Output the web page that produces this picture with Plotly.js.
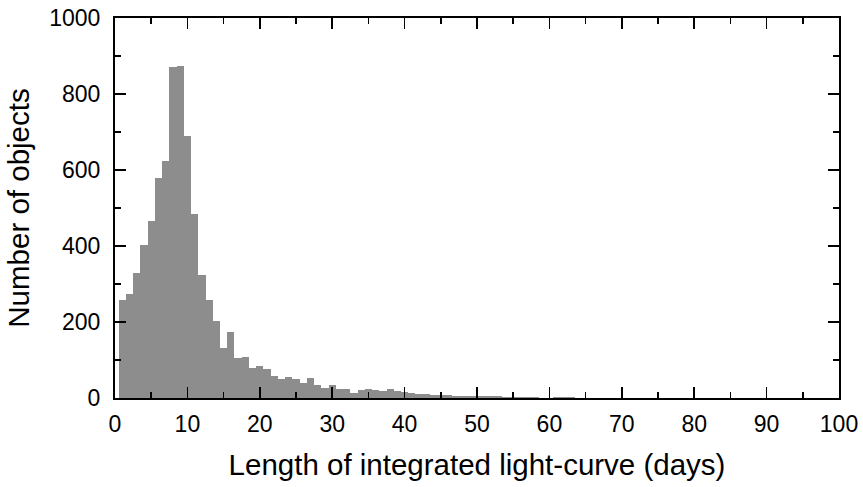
<!DOCTYPE html>
<html>
<head>
<meta charset="utf-8">
<script src="https://cdn.plot.ly/plotly-3.0.1.min.js"></script>
<style>html,body{margin:0;padding:0;background:#fff;}#chart{width:863px;height:487px;}</style>
</head>
<body>
<div id="chart"></div>
<script>
// Bin centres (days), bin width 1 day
const binCenters = [];
for (let d = 1; d <= 99; d++) binCenters.push(d);

// Number of objects per bin
const counts = [
  258, 274, 328, 402, 466, 578, 624, 871, 873, 689,   // 1-10
  483, 324, 257, 203, 132, 175, 106, 109, 78, 84,     // 11-20
  76, 57, 50, 55, 51, 39, 53, 34, 26, 33,             // 21-30
  23, 25, 12, 20, 25, 22, 18, 25, 19, 15,             // 31-40
  13, 11, 10, 9, 8, 8, 6, 6, 6, 5,                    // 41-50
  5, 4, 4, 3, 3, 3, 3, 3, 1, 1,                       // 51-60
  2, 2, 2, 1, 1, 1, 1, 0, 1, 1,                       // 61-70
  0, 0, 0, 0, 0, 0, 0, 0, 0, 0,                       // 71-80
  0, 1, 0, 1, 0, 0, 0, 1, 0, 0,                       // 81-90
  0, 0, 0, 0, 0, 0, 0, 0, 0                           // 91-99
];

const xTickVals = [0, 10, 20, 30, 40, 50, 60, 70, 80, 90, 100];
const yTickVals = [0, 200, 400, 600, 800, 1000];

const font = {family: 'Liberation Sans, Arial, sans-serif', color: '#000'};

const trace = {
  type: 'bar',
  x: binCenters,
  y: counts,
  width: 1,
  marker: {color: '#8d8d8d', line: {width: 0}},
  hoverinfo: 'x+y'
};

const layout = {
  width: 863, height: 487,
  margin: {l: 115, r: 24, t: 18, b: 89, pad: 0},
  paper_bgcolor: '#fff', plot_bgcolor: '#fff',
  showlegend: false,
  bargap: 0,
  font: Object.assign({size: 23}, font),
  xaxis: {
    range: [0, 100],
    tickvals: xTickVals,
    ticks: 'inside', ticklen: 11, tickwidth: 1.5, tickcolor: '#000',
    minor: {dtick: 5, ticks: 'inside', ticklen: 6, tickwidth: 1.5, tickcolor: '#000'},
    showline: true, linecolor: '#000', linewidth: 2, mirror: 'allticks',
    showgrid: false, zeroline: false,
    ticklabelstandoff: 4,
    tickfont: Object.assign({size: 23}, font),
    title: {text: 'Length of integrated light-curve (days)', font: Object.assign({size: 29.5}, font), standoff: 19}
  },
  yaxis: {
    range: [0, 1000],
    tickvals: yTickVals,
    ticks: 'inside', ticklen: 11, tickwidth: 1.5, tickcolor: '#000',
    minor: {dtick: 100, ticks: 'inside', ticklen: 6, tickwidth: 1.5, tickcolor: '#000'},
    showline: true, linecolor: '#000', linewidth: 2, mirror: 'allticks',
    showgrid: false, zeroline: false,
    ticklabelstandoff: 8,
    tickfont: Object.assign({size: 23}, font),
    title: {text: 'Number of objects', font: Object.assign({size: 29.5}, font), standoff: 11}
  }
};

Plotly.newPlot('chart', [trace], layout, {displayModeBar: false, staticPlot: true});
</script>
</body>
</html>
